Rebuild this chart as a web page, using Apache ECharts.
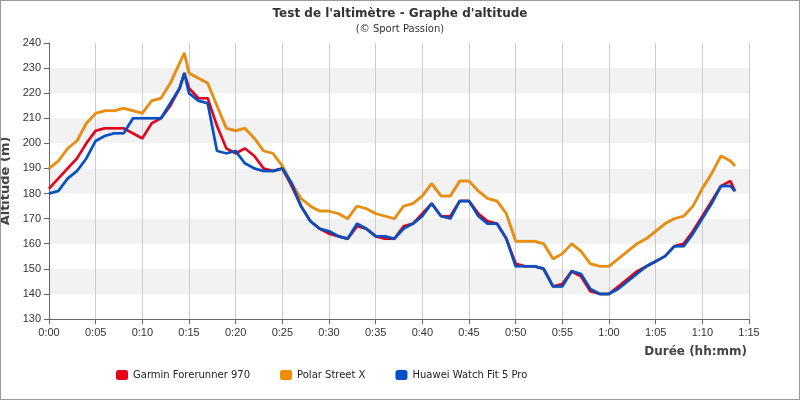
<!DOCTYPE html><html><head><meta charset="utf-8"><script src="https://cdn.jsdelivr.net/npm/echarts@6/dist/echarts.min.js"></script></head><body style="margin:0"><div id="c" style="width:800px;height:400px;box-sizing:border-box;border:1px solid #999"></div><script>
const minutes=[0,1,2,3,4,5,6,7,8,9,10,11,12,13,14,14.5,15,16,17,18,19,20,21,22,23,24,25,26,27,28,29,30,31,32,33,34,35,36,37,38,39,40,41,42,43,44,45,46,47,48,49,50,51,52,53,54,55,56,57,58,59,60,61,62,63,64,65,66,67,68,69,70,71,72,73,73.5];
const garmin=[182,186,190,194,200,205,206,206,206,204,202,208,210,215,222,228,222,218,218,207,198,196,198,195,190,189,190,183,175,169,166,164,163,162,167,166,163,162,162,167,168,172,176,171,171,177,177,172,169,168,162,152,151,151,150,143,144,149,147,141,140,140,143,146,149,151,153,155,159,160,165,171,177,183,185,181];
const polar=[190,193,198,201,208,212,213,213,214,213,212,217,218,224,232,236,228,226,224,215,206,205,206,202,197,196,191,184,178,175,173,173,172,170,175,174,172,171,170,175,176,179,184,179,179,185,185,181,178,177,172,161,161,161,160,154,156,160,157,152,151,151,154,157,160,162,165,168,170,171,175,182,188,195,193,191];
const huawei=[180,181,186,189,194,201,203,204,204,210,210,210,210,216,222,228,220,217,216,197,196,197,192,190,189,189,190,184,175,169,166,165,163,162,168,166,163,163,162,166,168,171,176,171,170,177,177,171,168,168,162,151,151,151,150,143,143,149,148,142,140,140,142,145,148,151,153,155,159,159,164,170,176,183,183,181];
const names=['Garmin Forerunner 970','Polar Street X','Huawei Watch Fit 5 Pro'];
const colors=['#e8001c','#f08c00','#0050c8'];
const data=[garmin,polar,huawei];
const fmt=v=>Math.floor(v/60)+':'+String(v%60).padStart(2,'0');
const order=[1,0,2];
const ch=echarts.init(document.getElementById('c'));
ch.setOption({
 animation:false,
 title:{text:"Test de l'altimètre - Graphe d'altitude",subtext:'(© Sport Passion)',left:'center',top:2,itemGap:4,
  textStyle:{fontSize:12,fontWeight:'bold',color:'#333',fontFamily:'DejaVu Sans'},subtextStyle:{fontSize:10,color:'#333',fontFamily:'DejaVu Sans'}},
 legend:{bottom:14,left:110,itemGap:30,itemWidth:12,itemHeight:10,icon:'roundRect',data:names,textStyle:{fontSize:10,color:'#222',fontFamily:'DejaVu Sans'}},
 grid:{left:48,right:50,top:42,bottom:80,outerBoundsMode:'none',containLabel:false},
 graphic:[{type:'text',right:52,top:345,style:{text:'Durée (hh:mm)',font:'bold 12px DejaVu Sans',fill:'#444'}}],
 xAxis:{type:'value',min:0,max:75,interval:5,
  axisLine:{lineStyle:{color:'#666'}},axisTick:{show:true,lineStyle:{color:'#666'}},
  axisLabel:{formatter:fmt,color:'#333',fontSize:11},splitLine:{lineStyle:{color:'#ccc'}}},
 yAxis:{type:'value',min:130,max:240,interval:10,name:'Altitude (m)',nameLocation:'middle',nameGap:33,
  nameTextStyle:{fontWeight:'bold',fontSize:13,color:'#444',fontFamily:'DejaVu Sans'},
  axisLine:{show:true,lineStyle:{color:'#666'}},axisTick:{show:true,lineStyle:{color:'#666'}},
  axisLabel:{color:'#333',fontSize:11},splitLine:{show:false},splitArea:{show:true,areaStyle:{color:['#fff','#f2f2f2']}}},
 series:order.map(i=>({name:names[i],type:'line',symbol:'none',z:3+i,color:colors[i],
  lineStyle:{width:2.5,color:colors[i],shadowColor:'rgba(0,0,0,0.35)',shadowBlur:1},
  data:minutes.map((m,k)=>[m,data[i][k]])}))
});
</script></body></html>
